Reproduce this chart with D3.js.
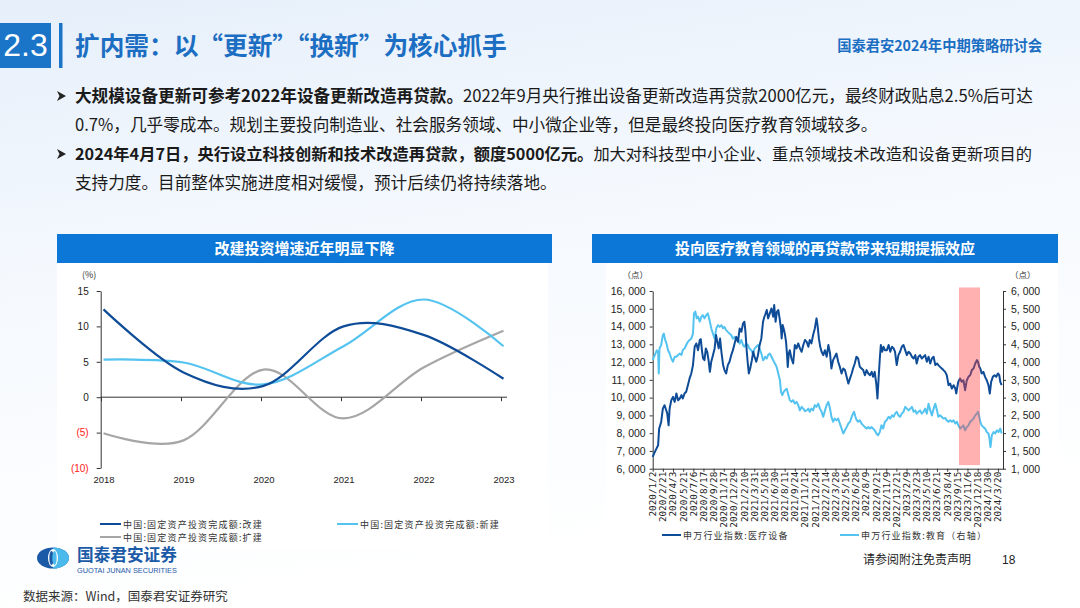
<!DOCTYPE html>
<html><head><meta charset="utf-8">
<script src="https://cdn.jsdelivr.net/npm/d3@7"></script>
<style>
html,body{margin:0;padding:0;background:#fff;}
svg{display:block;}
</style></head><body>
<svg id="c" width="1080" height="608"></svg>
<script>
// ---------------- DATA ----------------
// Left chart: 固定资产投资完成额 增速 (%)
const leftYears = [2018, 2019, 2020, 2021, 2022, 2023];
const gaijian = [12.4, 3.5, 1.6, 10.0, 8.8, 2.6];   // 改建
const xinjian = [5.3, 4.9, 1.8, 7.2, 13.8, 7.2];    // 新建
const kuojian = [-5.1, -6.1, 3.9, -3.0, 4.2, 9.4];  // 扩建
const leftTicks = [15, 10, 5, 0, -5, -10];

// Right chart: x = trading-day index since 2020/1/2 (ticks every 30 trading days)
const dateLabels = ["2020/1/2","2020/2/21","2020/4/3","2020/5/21","2020/7/6","2020/8/17","2020/9/28","2020/11/17","2020/12/29","2021/2/10","2021/3/31","2021/5/18","2021/6/30","2021/8/11","2021/9/24","2021/11/12","2021/12/24","2022/2/14","2022/3/28","2022/5/16","2022/6/28","2022/8/9","2022/9/21","2022/11/9","2022/12/21","2023/2/9","2023/3/23","2023/5/10","2023/6/21","2023/8/4","2023/9/15","2023/11/6","2023/12/18","2024/1/30","2024/3/20"];
const tickStepDays = 30;
const lastDay = 1035;
const leftAxisTicks = [16000,15000,14000,13000,12000,11000,10000,9000,8000,7000,6000];
const rightAxisTicks = [6000,5500,5000,4500,4000,3500,3000,2500,2000,1500,1000];
const shadeDays = [905, 967];
const shadeVals = [16200, 6200];

// 申万行业指数:医疗设备 (left axis)  [tradingDay, value]
const medical = [
[0,6660],[4,6850],[11,7130],[16,7320],[19,8250],[22,8440],[25,8630],[30,9380],[35,9570],[40,9290],[43,9100],[47,8440],[50,9380],[55,9850],[60,10040],[65,9760],[70,10230],[75,9850],[80,9950],[85,10140],[89,9950],[94,10230],[99,10330],[104,10700],[109,11080],[114,11360],[119,11830],[124,12860],[129,13050],[134,12670],[139,13240],[142,13290],[146,12580],[149,12200],[153,12110],[157,12770],[161,12580],[165,12110],[169,11450],[173,12020],[178,12390],[183,12770],[187,13520],[191,13140],[195,12770],[199,13330],[203,12580],[208,11830],[212,11550],[217,11360],[222,11830],[227,12020],[232,12390],[237,12670],[242,13050],[247,13420],[252,13140],[257,13890],[262,13710],[267,14180],[271,14270],[274,13710],[278,12580],[281,11920],[284,11360],[288,11640],[293,12110],[297,12580],[301,12300],[306,12020],[311,12390],[316,12960],[321,13330],[326,14270],[330,14550],
[332,14650],[337,14930],[341,14460],[346,14740],[351,15020],[356,14550],[359,15210],[363,14270],[367,14830],[371,14930],[375,14460],[379,13890],[381,13330],[384,14080],[388,13800],[391,13520],[394,13140],[397,12390],[399,11730],[402,12480],[405,12670],[410,12200],[415,11920],[420,12960],[425,12770],[430,13050],[435,12770],[440,12580],[445,12960],[450,13240],[455,13140],[460,12860],[464,13240],[469,13050],[474,13520],[479,13890],[484,14460],[487,14080],[491,13330],[495,12860],[499,12580],[504,12390],[509,12670],[514,12300],[519,12960],[524,12480],[528,11640],[533,12110],[538,12300],[543,12480],[548,12020],[553,11730],[558,11360],[563,11640],[568,11550],[573,11170],[578,10790],[583,11080],[588,11360],[592,11640],[597,11920],[602,12300],[607,12200],[612,11730],[617,11640],[622,11550],[627,11260],[632,11550],[637,11360],[642,11260],[647,11450],[651,11170],[656,11450],[661,10700],[664,9950],[668,11260],[671,12200],[674,12960],[678,12580],[682,12860],[686,12670],
[692,12670],[697,12960],[702,12580],[707,12860],[712,12770],[716,12580],[721,11830],[726,12390],[731,12580],[736,12860],[741,12960],[746,12670],[751,12390],[756,12580],[761,12480],[766,12300],[771,12200],[776,12390],[780,11920],[785,12300],[790,12390],[795,12200],[800,12300],[805,12390],[810,12020],[815,12300],[820,11920],[825,12200],[830,12300],[835,11830],[840,11920],[844,11830],[849,11730],[854,11640],[859,11550],[864,11450],[869,11260],[874,10700],[879,10790],[884,10510],[889,10700],[894,10510],[897,10230],[900,10600],[903,10890],[908,11080],[913,10890],[918,10980],[923,10420],[928,10980],[933,11170],[938,11260],[943,11550],[948,11640],[953,11920],[958,12110],[961,12020],[965,11730],[968,11640],[972,11360],[977,11450],[982,11170],[987,10980],[992,10700],[996,10230],[1000,10890],[1005,11170],[1010,11260],[1015,11170],[1020,11360],[1024,11260],[1027,10890],[1031,10700]
];

// 申万行业指数:教育 (right axis)  [tradingDay, value]
const education = [
[0,4054],[4,4150],[8,4240],[12,4330],[16,4290],[18,3680],[20,4380],[25,4480],[30,4760],[33,4800],[37,4620],[41,4520],[45,4340],[50,4240],[55,4100],[60,4010],[65,4150],[70,4150],[75,4200],[80,4240],[85,4200],[89,4340],[94,4380],[99,4480],[104,4570],[109,4620],[114,4660],[119,4800],[122,5370],[126,5420],[130,5230],[134,5280],[139,5140],[144,5280],[148,5320],[153,5230],[158,5320],[163,5370],[168,5180],[173,4950],[178,4800],[183,4660],[188,4950],[193,5040],[198,4990],[203,5040],[208,4950],[212,4990],[217,4900],[222,4850],[227,4800],[232,4760],[237,4660],[242,4710],[247,4620],[252,4660],[257,4520],[262,4620],[267,4480],[271,4430],[276,4520],[281,4480],[286,4380],[291,4340],[296,4240],[301,4380],[306,4430],[311,4480],[316,4380],[321,4240],[326,4050],[330,4100],
[332,4150],[337,4100],[341,4200],[346,4240],[351,4150],[356,4050],[361,3960],[366,3870],[371,3680],[376,3490],[379,3160],[383,3070],[387,3160],[391,3210],[396,3250],[401,3070],[405,2930],[410,2880],[415,2930],[420,2830],[425,2880],[430,2790],[435,2640],[440,2740],[445,2690],[450,2620],[455,2640],[460,2690],[464,2600],[469,2690],[474,2640],[479,2790],[484,2740],[489,2830],[494,2690],[499,2600],[504,2460],[509,2640],[514,2790],[519,2880],[524,2690],[528,2460],[533,2320],[538,2410],[543,2360],[548,2410],[553,2270],[558,2130],[563,1990],[568,2080],[573,2170],[578,2270],[583,2320],[588,2460],[592,2550],[595,2600],[599,2460],[603,2360],[607,2320],[612,2360],[617,2270],[622,2220],[627,2170],[632,2130],[637,2170],[642,2130],[647,2170],[651,2130],[656,2080],[661,1990],[666,1940],[671,2030],[676,2220],[681,2130],[686,2320],[691,2360],
[697,2460],[702,2410],[707,2500],[712,2460],[716,2550],[721,2600],[726,2500],[731,2460],[736,2550],[741,2600],[746,2740],[751,2690],[756,2640],[761,2690],[766,2740],[771,2600],[776,2640],[780,2550],[785,2600],[790,2640],[795,2550],[800,2600],[805,2690],[810,2550],[815,2830],[820,2640],[825,2500],[830,2690],[835,2830],[840,2640],[844,2460],[849,2500],[854,2460],[859,2410],[864,2430],[869,2360],[874,2320],[879,2360],[884,2320],[889,2360],[894,2270],[899,2320],[903,2220],[908,2130],[913,2170],[918,2220],[923,2080],[928,2170],[933,2220],[938,2320],[943,2360],[948,2410],[953,2500],[958,2550],[961,2600],[965,2460],[968,2320],[972,2220],[977,2170],[982,2130],[987,2030],[992,1990],[995,1850],[998,1610],[1002,1940],[1007,2030],[1012,1990],[1017,2080],[1022,2030],[1027,2130],[1031,1990]
];

// ---------------- TEXT ----------------
const pageTitle = "扩内需：以“更新”“换新”为核心抓手";
const pageTag = "国泰君安2024年中期策略研讨会";
const bulletLines = [
  [["大规模设备更新可参考2022年设备更新改造再贷款。", true], ["2022年9月央行推出设备更新改造再贷款2000亿元，最终财政贴息2.5%后可达", false]],
  [["0.7%，几乎零成本。规划主要投向制造业、社会服务领域、中小微企业等，但是最终投向医疗教育领域较多。", false]],
  [["2024年4月7日，央行设立科技创新和技术改造再贷款，额度5000亿元。", true], ["加大对科技型中小企业、重点领域技术改造和设备更新项目的", false]],
  [["支持力度。目前整体实施进度相对缓慢，预计后续仍将持续落地。", false]]
];
const leftTitle = "改建投资增速近年明显下降";
const rightTitle = "投向医疗教育领域的再贷款带来短期提振效应";
const leftLegend = ["中国:固定资产投资完成额:改建", "中国:固定资产投资完成额:新建", "中国:固定资产投资完成额:扩建"];
const rightLegend = ["申万行业指数:医疗设备", "申万行业指数:教育（右轴）"];

// ---------------- DRAW ----------------
const CJK = "'Noto Sans CJK SC','Noto Sans',sans-serif";
const LAT = "'Liberation Sans',Arial,sans-serif";
const BLUE = "#1a74c8";
const DARK = "#0f4c97", LIGHT = "#55c3f0", GREY = "#a6a6a6";

const svg = d3.select("#c");
const defs = svg.append("defs");
const grad = defs.append("linearGradient").attr("id", "bg").attr("x1", 0).attr("y1", 0).attr("x2", 0.25).attr("y2", 1);
grad.append("stop").attr("offset", "0%").attr("stop-color", "#e6effa");
grad.append("stop").attr("offset", "45%").attr("stop-color", "#f5f9fe");
grad.append("stop").attr("offset", "100%").attr("stop-color", "#ffffff");
svg.append("rect").attr("width", 1080).attr("height", 608).attr("fill", "url(#bg)");

function fitWidth(sel, w) {
  const cur = parseFloat(sel.style("font-size"));
  const L = sel.node().getComputedTextLength();
  const fs = cur * w / L;
  sel.style("font-size", fs + "px");
  return fs;
}

// header
svg.append("rect").attr("x", 0).attr("y", 23).attr("width", 51).attr("height", 45).attr("fill", BLUE);
svg.append("text").attr("x", 25.5).attr("y", 55.5).attr("text-anchor", "middle").attr("fill", "#fff")
  .style("font-family", "'Liberation Sans Narrow','Liberation Sans',Arial,sans-serif").style("font-size", "32px").text("2.3");
svg.append("rect").attr("x", 59).attr("y", 23).attr("width", 3.5).attr("height", 45).attr("fill", BLUE);
const tt = svg.append("text").attr("x", 75).attr("y", 55).attr("fill", "#1b6ec2")
  .style("font-family", CJK).style("font-weight", "bold").style("font-size", "22px").text(pageTitle);
fitWidth(tt, 432);
const tg = svg.append("text").attr("x", 1042).attr("y", 51).attr("text-anchor", "end").attr("fill", "#1b6ec2")
  .style("font-family", CJK).style("font-weight", "bold").style("font-size", "14px").text(pageTag);
fitWidth(tg, 205);

// bullets
const lineY = [102, 130.5, 160, 188.5];
let bodySize = 16;
bulletLines.forEach((parts, i) => {
  const t = svg.append("text").attr("x", 75).attr("y", lineY[i]).attr("fill", "#1a1a1a")
    .style("font-family", CJK).style("font-size", "16px");
  parts.forEach(p => t.append("tspan").style("font-weight", p[1] ? "bold" : "normal").text(p[0]));
  if (i === 0) bodySize = fitWidth(t, 958);
  else if (i === 2) fitWidth(t, 958);
  else t.style("font-size", bodySize + "px");
});
[0, 2].forEach(i => {
  const cy = lineY[i] - 6;
  svg.append("path").attr("d", `M57,${cy - 5} L66,${cy} L57,${cy + 5} L59.5,${cy} Z`).attr("fill", "#222");
});

// chart panels and title bars
svg.append("rect").attr("x", 57).attr("y", 263).attr("width", 491).attr("height", 285).attr("fill", "#fff");
svg.append("rect").attr("x", 606).attr("y", 263).attr("width", 452).attr("height", 285).attr("fill", "#fff");
function titleBar(x0, x1, label) {
  svg.append("rect").attr("x", x0).attr("y", 234).attr("width", x1 - x0).attr("height", 29).attr("fill", "#0c77d6");
  svg.append("text").attr("x", (x0 + x1) / 2).attr("y", 254).attr("text-anchor", "middle").attr("fill", "#fff")
    .style("font-family", CJK).style("font-weight", "bold").style("font-size", "15px").text(label);
}
titleBar(57, 552, leftTitle);
titleBar(592, 1058, rightTitle);

// ---------- LEFT CHART ----------
const xL = d3.scalePoint().domain(leftYears).range([103.5, 503.5]);
const yLf = d3.scaleLinear().domain([-10, 15]).range([468, 291]);
const axL = svg.append("g").attr("transform", "translate(100.7,0)")
  .call(d3.axisLeft(yLf).tickValues(leftTicks).tickSize(4).tickSizeOuter(0).tickPadding(8)
    .tickFormat(d => d < 0 ? `(${-d})` : d));
axL.selectAll("path,line").attr("stroke", "#333");
axL.selectAll("text").attr("fill", d => d < 0 ? "#ff2020" : "#222").style("font-family", LAT).style("font-size", "10px");
// zero line with ticks
const zeroAx = svg.append("g").attr("transform", `translate(0,${yLf(0)})`)
  .call(d3.axisBottom(xL).tickSize(4).tickSizeOuter(0).tickFormat(""));
zeroAx.select(".domain").remove();
zeroAx.selectAll("line").attr("stroke", "#333").attr("transform", "translate(-2.5,0)");
zeroAx.append("line").attr("x1", xL.range()[0] - 3).attr("x2", xL.range()[1] + 3.5).attr("stroke", "#333");
const xLab = svg.append("g").attr("transform", `translate(0,${yLf(-10)})`)
  .call(d3.axisBottom(xL).tickSize(0).tickPadding(8));
xLab.select(".domain").remove();
xLab.selectAll("text").attr("fill", "#222").style("font-family", LAT).style("font-size", "9.5px");
svg.append("text").attr("x", 82).attr("y", 278).attr("fill", "#333").style("font-family", CJK).style("font-size", "9px").text("(%)");

const lineL = d3.line().x((d, i) => xL(leftYears[i])).y(d => yLf(d)).curve(d3.curveCardinal.tension(0));
[[kuojian, GREY], [xinjian, LIGHT], [gaijian, DARK]].forEach(([s, c]) => {
  svg.append("path").datum(s).attr("d", lineL).attr("fill", "none").attr("stroke", c).attr("stroke-width", 2.2);
});
// left legend
const legL = [[DARK, 100, 524], [LIGHT, 337, 524], [GREY, 100, 537]];
legL.forEach((l, i) => {
  svg.append("line").attr("x1", l[1]).attr("x2", l[1] + 21).attr("y1", l[2]).attr("y2", l[2]).attr("stroke", l[0]).attr("stroke-width", 2);
  svg.append("text").attr("x", l[1] + 23).attr("y", l[2] + 3.5).attr("fill", "#333")
    .style("font-family", CJK).style("font-size", "9px").style("letter-spacing", "1.2px").text(leftLegend[i]);
});

// ---------- RIGHT CHART ----------
const xR = d3.scaleLinear().domain([0, lastDay]).range([652.7, 1003]);
const yA = d3.scaleLinear().domain([6000, 16000]).range([468.7, 291]);
const yB = d3.scaleLinear().domain([1000, 6000]).range([468.7, 291]);
const fmt = d => d3.format(",")(d).replace(",", ", ");
const axA = svg.append("g").attr("transform", "translate(652.7,0)")
  .call(d3.axisLeft(yA).tickValues(leftAxisTicks).tickSize(3).tickSizeOuter(0).tickPadding(4).tickFormat(fmt));
const axB = svg.append("g").attr("transform", "translate(1003,0)")
  .call(d3.axisRight(yB).tickValues(rightAxisTicks).tickSize(3).tickSizeOuter(0).tickPadding(5).tickFormat(fmt));
const axX = svg.append("g").attr("transform", "translate(0,468.7)")
  .call(d3.axisBottom(xR).tickValues(dateLabels.map((d, i) => i * tickStepDays)).tickSize(3).tickSizeOuter(0)
    .tickFormat((d, i) => dateLabels[i]));
[axA, axB, axX].forEach(a => {
  a.selectAll("path,line").attr("stroke", "#333");
  a.selectAll("text").attr("fill", "#222");
});
[axA, axB].forEach(a => a.selectAll("text").style("font-family", LAT).style("font-size", "10.5px"));
axX.selectAll("text").style("font-family", "'DejaVu Sans Mono',monospace").style("font-size", "9.3px")
  .attr("transform", "rotate(-90)").attr("text-anchor", "end").attr("x", -3).attr("y", 0).attr("dy", "0.32em");
svg.append("text").attr("x", 648).attr("y", 278).attr("text-anchor", "end").attr("fill", "#333")
  .style("font-family", CJK).style("font-size", "8.5px").text("（点）");
svg.append("text").attr("x", 1010).attr("y", 278).attr("fill", "#333")
  .style("font-family", CJK).style("font-size", "8.5px").text("（点）");

const lineA = d3.line().x(d => xR(d[0])).y(d => yA(d[1])).curve(d3.curveLinear);
const lineB = d3.line().x(d => xR(d[0])).y(d => yB(d[1])).curve(d3.curveLinear);
svg.append("path").datum(education).attr("d", lineB).attr("fill", "none").attr("stroke", LIGHT).attr("stroke-width", 2).attr("stroke-linejoin", "round");
svg.append("path").datum(medical).attr("d", lineA).attr("fill", "none").attr("stroke", DARK).attr("stroke-width", 2).attr("stroke-linejoin", "round");
svg.append("rect").attr("x", xR(shadeDays[0])).attr("width", xR(shadeDays[1]) - xR(shadeDays[0]))
  .attr("y", yA(shadeVals[0])).attr("height", yA(shadeVals[1]) - yA(shadeVals[0]))
  .attr("fill", "rgb(255,60,60)").attr("fill-opacity", 0.4);

// right legend
[[DARK, 662], [LIGHT, 840]].forEach((l, i) => {
  svg.append("line").attr("x1", l[1]).attr("x2", l[1] + 19).attr("y1", 535).attr("y2", 535).attr("stroke", l[0]).attr("stroke-width", 2);
  svg.append("text").attr("x", l[1] + 21).attr("y", 538.5).attr("fill", "#333")
    .style("font-family", CJK).style("font-size", "9px").style("letter-spacing", "1.2px").text(rightLegend[i]);
});

// ---------- FOOTER ----------
const logo = svg.append("g");
logo.append("ellipse").attr("cx", 53).attr("cy", 558).attr("rx", 16).attr("ry", 10.5).attr("fill", "#1b5aa7");
defs.append("clipPath").attr("id", "rh").append("rect").attr("x", 53).attr("y", 540).attr("width", 20).attr("height", 40);
logo.append("ellipse").attr("cx", 53).attr("cy", 558).attr("rx", 16).attr("ry", 10.5).attr("fill", "#4cb9ec").attr("clip-path", "url(#rh)");
logo.append("ellipse").attr("cx", 53).attr("cy", 558).attr("rx", 5).attr("ry", 9).attr("fill", "#fff");
logo.append("ellipse").attr("cx", 51.5).attr("cy", 558).attr("rx", 2.2).attr("ry", 7).attr("fill", "#1b5aa7");
logo.append("ellipse").attr("cx", 54.5).attr("cy", 558).attr("rx", 2.2).attr("ry", 7).attr("fill", "#4cb9ec");
const lt = logo.append("text").attr("x", 77).attr("y", 561).attr("fill", "#1b5aa7")
  .style("font-family", CJK).style("font-weight", "bold").style("font-size", "17px").text("国泰君安证券");
fitWidth(lt, 100);
const le = logo.append("text").attr("x", 77).attr("y", 572.5).attr("fill", "#1b5aa7")
  .style("font-family", LAT).style("font-size", "5.5px").text("GUOTAI JUNAN SECURITIES");
fitWidth(le, 100);

svg.append("text").attr("x", 23).attr("y", 601).attr("fill", "#333")
  .style("font-family", CJK).style("font-size", "12.5px").text("数据来源：Wind，国泰君安证券研究");
svg.append("text").attr("x", 863).attr("y", 564).attr("fill", "#222")
  .style("font-family", CJK).style("font-size", "12px").text("请参阅附注免责声明");
svg.append("text").attr("x", 1002).attr("y", 564).attr("fill", "#222")
  .style("font-family", LAT).style("font-size", "12px").text("18");
</script>
</body></html>
